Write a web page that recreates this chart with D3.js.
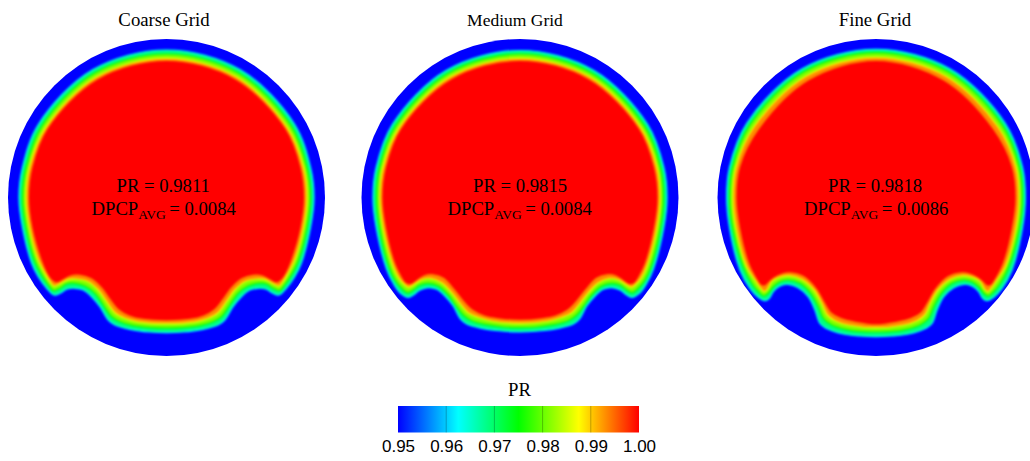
<!DOCTYPE html>
<html lang="en">
<head>
<meta charset="UTF-8">
<title>PR contours on three grids</title>
<script src="https://d3js.org/d3.v7.min.js"></script>
<style>
    html, body { margin: 0; padding: 0; background: #fff; }
    svg { display: block; }
    text { fill: #000; }
</style>
</head>
<body>
<div id="chart"></div>
<script>
// contour outlines, left half only (top centre to bottom centre), units where wall radius = 158.5
const coarseCyan = [[0,147.5],[-73.8,127.7],[-127.7,73.8],[-144,30],[-147.5,0],[-144,-30],[-134.8,-65.8],[-128.2,-79.2],[-119.8,-90.8],[-112.5,-97.5],[-106.5,-95.8],[-99.8,-91.8],[-91.5,-90.8],[-83.2,-92.5],[-74.8,-99.2],[-66.5,-109.2],[-58.2,-122.5],[-51.5,-127.5],[-36.5,-131.8],[-16.5,-134.5],[0,-135.2]];
const coarseGreen = [[0,143.5],[-71.9,124.5],[-124.5,71.9],[-140.5,30],[-144,0],[-140.5,-30],[-131.5,-64.2],[-124.8,-77.5],[-118.2,-87.5],[-113.2,-93.2],[-106.5,-90.8],[-99.8,-86.5],[-91.5,-85.8],[-81.5,-88.5],[-71.5,-95.8],[-63.2,-107.5],[-54.8,-119.2],[-46.5,-124.2],[-33.2,-128.2],[-16.5,-130.2],[0,-130.7]];
const coarseYellow = [[0,139.2],[-69.7,120.7],[-120.9,69.8],[-137,30],[-140.5,0],[-137,-30],[-128.2,-62.5],[-121.5,-75.8],[-116.5,-84.2],[-112.5,-88.5],[-104.8,-85.2],[-98.2,-81.8],[-89.8,-81.5],[-78.2,-84.2],[-68.2,-92.5],[-59.8,-104.2],[-51.5,-115.2],[-41.5,-120.8],[-29.8,-124.2],[-14.8,-125.8],[0,-126.2]];
const coarseRed = [[0,135],[-67.6,117],[-117.5,68],[-132.5,30],[-136,0],[-132.5,-30],[-123.2,-62.5],[-118.2,-74.2],[-113.8,-80.8],[-109.8,-83.2],[-103.2,-79.8],[-96.5,-76.5],[-86.5,-75.8],[-74.8,-79.2],[-63.2,-89.2],[-54.8,-100.8],[-46.5,-110.8],[-36.5,-116.5],[-23.2,-119.8],[0,-121.2]];

const mediumCyan = [[0,147],[-73.5,127.3],[-127.3,73.5],[-143.8,30],[-147,0],[-143.8,-30],[-133.3,-71.8],[-126.7,-85.8],[-120,-95.2],[-111.7,-99.8],[-106.7,-97.5],[-100,-92.5],[-91.7,-90.2],[-83.3,-91.8],[-75,-98.5],[-66.7,-108.5],[-60,-120.8],[-53.3,-126.5],[-38.3,-130.8],[-18.3,-133.5],[0,-134.5]];
const mediumGreen = [[0,143.5],[-71.8,124.3],[-124.3,71.8],[-140.5,30],[-143.5,0],[-140.5,-30],[-131,-69.2],[-125,-82.5],[-118.3,-90.8],[-112.3,-95.2],[-106.7,-92.5],[-100,-87.5],[-91.7,-85.8],[-81.7,-88.5],[-71.7,-97.5],[-63.3,-109.2],[-56.7,-117.5],[-47.7,-123.5],[-33.3,-127.2],[-16.7,-129.5],[0,-130.2]];
const mediumYellow = [[0,139.2],[-69.7,120.7],[-120.9,69.8],[-137,30],[-140.2,0],[-137,-30],[-126.7,-69.2],[-121,-80.8],[-115.7,-86.8],[-111.7,-89.8],[-105.7,-86.8],[-99,-82.5],[-90,-80.8],[-78.3,-85.2],[-68.3,-95.2],[-60,-105.8],[-51.7,-115.2],[-41.7,-119.8],[-28.3,-123.5],[0,-125.8]];
const mediumRed = [[0,135],[-67.6,117],[-117.5,68],[-132.5,30],[-136,0],[-132.5,-30],[-123.3,-65.8],[-117.7,-77.5],[-113.3,-84.2],[-109,-84.8],[-103.3,-80.8],[-96.7,-76.5],[-86.7,-75.2],[-75,-79.2],[-64.3,-90.8],[-55,-102.5],[-46.7,-110.8],[-35,-116.5],[-21.7,-119.2],[0,-120.8]];

const fineCyan = [[0,148.2],[-74.2,128.6],[-129,74.5],[-146.5,30],[-149.3,0],[-146.5,-30],[-136,-72.5],[-126,-90.8],[-117.7,-99.8],[-111,-103.2],[-106.7,-100.8],[-102.7,-94.2],[-96,-88.5],[-87.7,-86.8],[-77.7,-90.2],[-67.7,-99.2],[-61,-112.5],[-56,-125.8],[-47.7,-131.8],[-32.7,-136.5],[-16,-138.5],[0,-139.2]];
const fineGreen = [[0,144.8],[-72.5,125.6],[-126,72.8],[-143.5,30],[-146.5,0],[-143.5,-30],[-132.7,-69.2],[-124.3,-85.8],[-117.7,-94.2],[-112,-98.5],[-107.7,-95.8],[-102.7,-89.2],[-96,-84.2],[-87.7,-82.5],[-76,-85.8],[-65.3,-95.8],[-57.7,-109.2],[-52.7,-120.8],[-44.3,-127.5],[-31,-131.8],[-14.3,-134.2],[0,-134.5]];
const fineYellow = [[0,140.2],[-70,121.2],[-122.1,70.5],[-140,30],[-143,0],[-140,-30],[-129.3,-69.2],[-121,-82.5],[-115.3,-90.8],[-112,-94.2],[-108.7,-91.8],[-104.3,-84.2],[-96.7,-79.8],[-86.7,-78.2],[-74.3,-81.8],[-62,-92.5],[-54.3,-105.8],[-48.7,-117.5],[-41,-123.2],[-27.7,-127.5],[0,-130.2]];
const fineRed = [[0,135],[-66.8,115.6],[-116,67],[-134.5,30],[-138,0],[-134.5,-30],[-125.3,-65.8],[-117.7,-80.8],[-114.3,-85.8],[-112,-86.5],[-107.7,-82.5],[-102.7,-78.5],[-94.3,-74.5],[-86,-73.2],[-71,-77.5],[-57.7,-90.8],[-50,-104.2],[-43.3,-114.2],[-34.3,-119.2],[-21,-122.5],[0,-125.2]];

const panelTitles = ["Coarse Grid", "Medium Grid", "Fine Grid"];
const prValues = ["0.9811", "0.9815", "0.9818"];
const dpcpValues = ["0.0084", "0.0084", "0.0086"];
const contourLevels = [0.9625, 0.975, 0.9875, 0.999];
const panelContours = [
    [coarseCyan, coarseGreen, coarseYellow, coarseRed],
    [mediumCyan, mediumGreen, mediumYellow, mediumRed],
    [fineCyan, fineGreen, fineYellow, fineRed]
];

const colorStops = [0.95, 0.9625, 0.975, 0.9875, 1];
const colorNames = ["#0000ff", "#00ffff", "#00ff00", "#ffff00", "#ff0000"];
const legendTicks = [0.95, 0.96, 0.97, 0.98, 0.99, 1.00];

const width = 1030, height = 461;
const wallRadius = 158.5;
const centerX = [166.5, 520, 876];
const centerY = 197.5;
const titleX = [164, 515, 875];
const titleSize = [18.8, 17.5, 18.8];
const prX = [116.5, 473, 828];
const dpcpX = [91.5, 447.5, 804];

const color = d3.scaleLinear().domain(colorStops).range(colorNames);

const svg = d3.select("#chart").append("svg")
    .attr("width", width)
    .attr("height", height);

const defs = svg.append("defs");
defs.append("filter").attr("id", "soft")
    .attr("x", "-5%").attr("y", "-5%").attr("width", "110%").attr("height", "110%")
    .attr("color-interpolation-filters", "sRGB")
    .append("feGaussianBlur").attr("stdDeviation", 0.85);

// half outline -> closed loop by mirroring about the vertical centreline
function closeOutline(half) {
    const mirrored = half.slice(1, half.length - 1).reverse().map(d => [-d[0], d[1]]);
    return half.concat(mirrored);
}

panelContours.forEach((contours, i) => {
    const x = d3.scaleLinear().domain([-wallRadius, wallRadius]).range([centerX[i] - wallRadius, centerX[i] + wallRadius]);
    const y = d3.scaleLinear().domain([-wallRadius, wallRadius]).range([centerY + wallRadius, centerY - wallRadius]);
    const line = d3.line()
        .x(d => x(d[0]))
        .y(d => y(d[1]))
        .curve(d3.curveCatmullRomClosed.alpha(0.5));

    const g = svg.append("g");
    g.append("circle")
        .attr("cx", x(0))
        .attr("cy", y(0))
        .attr("r", x(wallRadius) - x(0))
        .attr("fill", color(0.95));

    const bands = g.append("g").attr("filter", "url(#soft)");
    contours.forEach((outline, k) => {
        const next = contourLevels[k + 1];
        bands.append("path")
            .attr("d", line(closeOutline(outline)))
            .attr("fill", next ? color((contourLevels[k] + next) / 2) : color(1))
            .attr("stroke", color(next ? contourLevels[k] : 1))
            .attr("stroke-width", next ? 1.2 : 3);
    });

    svg.append("text")
        .attr("x", titleX[i])
        .attr("y", 26)
        .attr("text-anchor", "middle")
        .attr("font-family", "Liberation Serif")
        .attr("font-size", titleSize[i])
        .text(panelTitles[i]);

    svg.append("text")
        .attr("x", prX[i])
        .attr("y", 191.5)
        .attr("font-family", "Liberation Serif")
        .attr("font-size", 18.7)
        .text("PR = " + prValues[i]);

    const dpcp = svg.append("text")
        .attr("x", dpcpX[i])
        .attr("y", 215)
        .attr("font-family", "Liberation Serif")
        .attr("font-size", 18.7);
    dpcp.append("tspan").text("DPCP");
    dpcp.append("tspan").attr("dy", 4).attr("font-size", 13.5).text("AVG");
    dpcp.append("tspan").attr("dy", -4).attr("dx", 3.5).text("= " + dpcpValues[i]);
});

// colour bar
const legendX = d3.scaleLinear().domain([0.95, 1]).range([398, 639]);
const barTop = 406, barHeight = 26.5;

const gradient = defs.append("linearGradient").attr("id", "prBar");
gradient.selectAll("stop")
    .data(colorStops)
    .enter()
    .append("stop")
    .attr("offset", d => (legendX(d) - legendX(0.95)) / (legendX(1) - legendX(0.95)))
    .attr("stop-color", d => color(d));

svg.append("rect")
    .attr("x", legendX(0.95))
    .attr("y", barTop)
    .attr("width", legendX(1) - legendX(0.95))
    .attr("height", barHeight)
    .attr("fill", "url(#prBar)");

svg.selectAll(".bar-tick")
    .data(legendTicks.slice(1, -1))
    .enter()
    .append("line")
    .attr("class", "bar-tick")
    .attr("x1", d => legendX(d))
    .attr("x2", d => legendX(d))
    .attr("y1", barTop)
    .attr("y2", barTop + barHeight)
    .attr("stroke", "#000")
    .attr("stroke-opacity", 0.25);

const legendAxis = d3.axisBottom(legendX)
    .tickValues(legendTicks)
    .tickFormat(d3.format(".2f"))
    .tickSize(0)
    .tickPadding(7);

svg.append("g")
    .attr("transform", `translate(0, ${barTop + barHeight})`)
    .call(legendAxis)
    .call(g => g.select(".domain").remove())
    .selectAll("text")
    .attr("font-family", "Liberation Sans")
    .attr("font-size", 17)
    .attr("fill", "#000");

svg.append("text")
    .attr("x", 519.5)
    .attr("y", 396)
    .attr("text-anchor", "middle")
    .attr("font-family", "Liberation Serif")
    .attr("font-size", 18.8)
    .text("PR");
</script>
</body>
</html>
